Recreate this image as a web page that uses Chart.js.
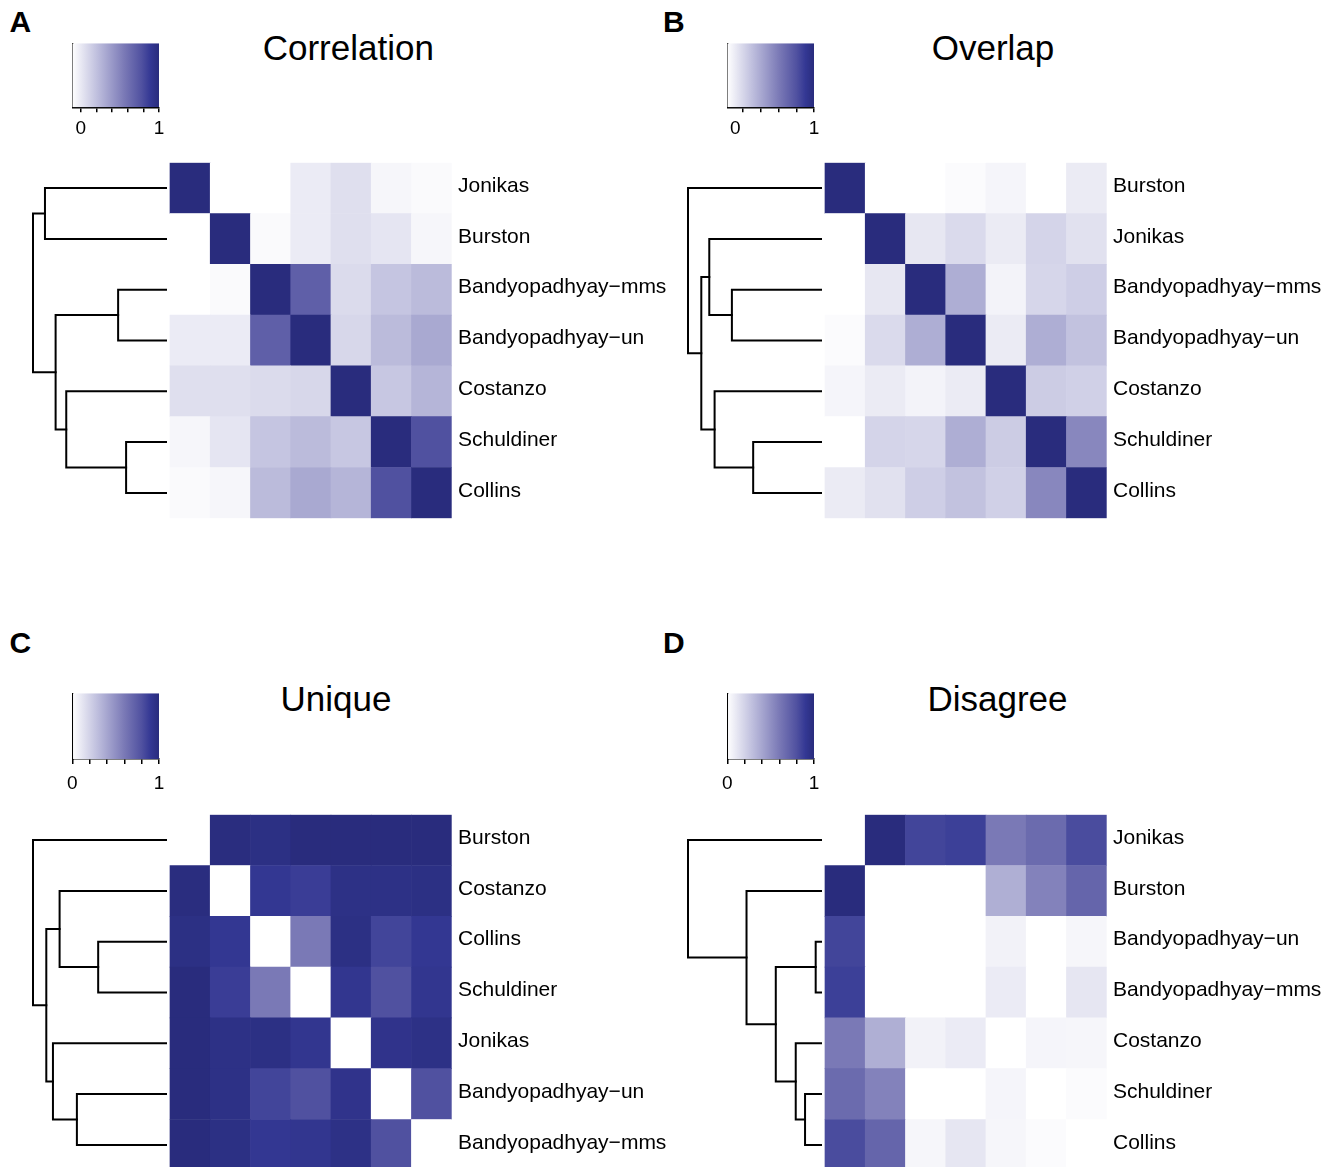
<!DOCTYPE html>
<html>
<head>
<meta charset="utf-8">
<script src="https://cdn.jsdelivr.net/npm/chart.js@4.4.1/dist/chart.umd.min.js"></script>
<style>
  html, body { margin: 0; padding: 0; background: #fff; }
  body { width: 1335px; height: 1167px; position: relative; overflow: hidden;
         font-family: "Liberation Sans", Arial, Helvetica, sans-serif; color: #000; }
  canvas { position: absolute; }
  .txt { position: absolute; white-space: nowrap; line-height: 1; }
  .letter { font-weight: bold; font-size: 30px; }
  .title { font-size: 35px; transform: translateX(-50%); }
</style>
</head>
<body>
<script>
// ---------------- data ----------------
const corrRows = ['Jonikas', 'Burston', 'Bandyopadhyay\u2212mms', 'Bandyopadhyay\u2212un', 'Costanzo', 'Schuldiner', 'Collins'];
const corrValues = [
  [ 1.00, -0.11, -0.11, -0.01,  0.05, -0.06, -0.08],
  [-0.11,  1.00, -0.08, -0.01,  0.05,  0.02, -0.06],
  [-0.11, -0.08,  1.00,  0.70,  0.07,  0.18,  0.23],
  [-0.01, -0.01,  0.70,  1.00,  0.09,  0.23,  0.32],
  [ 0.05,  0.05,  0.07,  0.09,  1.00,  0.17,  0.26],
  [-0.06,  0.02,  0.18,  0.23,  0.17,  1.00,  0.78],
  [-0.08, -0.06,  0.23,  0.32,  0.26,  0.78,  1.00]
];
// hclust-style merges: negative = leaf (1-based row), positive = earlier merge; last = height
const corrMerge = [[-6, -7, 0.30], [-3, -4, 0.36], [-5, 1, 0.75], [2, 3, 0.83], [-1, -2, 0.91], [5, 4, 1.00]];
const corrKeyRange = [-0.107, 1];
const corrKeyTicks = [0, 0.2, 0.4, 0.6, 0.8, 1];
const corrKeyTickLabels = ['0', '', '', '', '', '1'];
const corrKeyTickMarks = [1, 1, 1, 1, 1, 1];

const overlapRows = ['Burston', 'Jonikas', 'Bandyopadhyay\u2212mms', 'Bandyopadhyay\u2212un', 'Costanzo', 'Schuldiner', 'Collins'];
const overlapValues = [
  [ 1.00, -0.10, -0.10, -0.08, -0.05, -0.10,  0.00],
  [-0.10,  1.00,  0.02,  0.08,  0.00,  0.11,  0.05],
  [-0.10,  0.02,  1.00,  0.30, -0.04,  0.10,  0.14],
  [-0.08,  0.08,  0.30,  1.00,  0.00,  0.30,  0.20],
  [-0.05,  0.00, -0.04,  0.00,  1.00,  0.15,  0.13],
  [-0.10,  0.11,  0.10,  0.30,  0.15,  1.00,  0.49],
  [ 0.00,  0.05,  0.14,  0.20,  0.13,  0.49,  1.00]
];
const overlapMerge = [[-6, -7, 0.51], [-3, -4, 0.67], [-5, 1, 0.80], [-2, 2, 0.84], [4, 3, 0.90], [-1, 5, 1.00]];
const overlapKeyRange = [-0.10, 1];
const overlapKeyTicks = [0, 0.09, 0.32, 0.55, 0.78, 1];
const overlapKeyTickLabels = ['0', '', '', '', '', '1'];
const overlapKeyTickMarks = [0, 1, 1, 1, 1, 1];

const uniqueRows = ['Burston', 'Costanzo', 'Collins', 'Schuldiner', 'Jonikas', 'Bandyopadhyay\u2212un', 'Bandyopadhyay\u2212mms'];
const uniqueValues = [
  [0.00, 0.99, 0.97, 1.00, 1.00, 1.00, 1.00],
  [0.99, 0.00, 0.91, 0.88, 0.96, 0.96, 0.97],
  [0.97, 0.91, 0.00, 0.60, 0.97, 0.85, 0.91],
  [1.00, 0.88, 0.60, 0.00, 0.92, 0.80, 0.92],
  [1.00, 0.96, 0.97, 0.92, 0.00, 0.94, 0.96],
  [1.00, 0.96, 0.85, 0.80, 0.94, 0.00, 0.80],
  [1.00, 0.97, 0.91, 0.92, 0.96, 0.80, 0.00]
];
const uniqueMerge = [[-3, -4, 0.51], [-6, -7, 0.67], [-2, 1, 0.80], [-5, 2, 0.85], [3, 4, 0.90], [-1, 5, 1.00]];
const uniqueKeyRange = [0, 1];
const uniqueKeyTicks = [0, 0.2, 0.4, 0.6, 0.8, 1];
const uniqueKeyTickLabels = ['0', '', '', '', '', '1'];
const uniqueKeyTickMarks = [1, 1, 1, 1, 1, 1];

const disagreeRows = ['Jonikas', 'Burston', 'Bandyopadhyay\u2212un', 'Bandyopadhyay\u2212mms', 'Costanzo', 'Schuldiner', 'Collins'];
const disagreeValues = [
  [0.00, 1.00, 0.85, 0.87, 0.60, 0.67, 0.82],
  [1.00, 0.00, 0.00, 0.00, 0.36, 0.56, 0.70],
  [0.85, 0.00, 0.00, 0.00, 0.06, 0.00, 0.04],
  [0.87, 0.00, 0.00, 0.00, 0.09, 0.00, 0.11],
  [0.60, 0.36, 0.06, 0.09, 0.00, 0.045, 0.04],
  [0.67, 0.56, 0.00, 0.00, 0.045, 0.00, 0.02],
  [0.82, 0.70, 0.04, 0.11, 0.04, 0.02, 0.00]
];
const disagreeMerge = [[-3, -4, 0.04], [-6, -7, 0.12], [-5, 2, 0.19], [1, 3, 0.34], [-2, 4, 0.56], [-1, 5, 1.00]];
const disagreeKeyRange = [0, 1];
const disagreeKeyTicks = [0, 0.2, 0.4, 0.6, 0.8, 1];
const disagreeKeyTickLabels = ['0', '', '', '', '', '1'];
const disagreeKeyTickMarks = [1, 1, 1, 1, 1, 1];

// ---------------- styling ----------------
const FONT = '"Liberation Sans", Arial, Helvetica, sans-serif';
// white -> navy colour ramp
const RAMP = [
  [0.0, [255, 255, 255]],
  [0.3, [188, 188, 220]],
  [0.6, [122, 121, 182]],
  [0.8, [80, 81, 160]],
  [0.9, [52, 56, 148]],
  [1.0, [41, 44, 125]]
];
function rampColor(t) {
  t = Math.max(0, Math.min(1, t));
  for (let k = 1; k < RAMP.length; k++) {
    const [t1, c1] = RAMP[k];
    const [t0, c0] = RAMP[k - 1];
    if (t <= t1) {
      const f = (t - t0) / (t1 - t0);
      const c = c0.map((v, i) => Math.round(v + (c1[i] - v) * f));
      return `rgb(${c[0]},${c[1]},${c[2]})`;
    }
  }
  return 'rgb(41,44,125)';
}

// dendrogram: one U-shaped polyline per merge, x = merge height, y = row
function dendroLinks(merge) {
  const nodes = [];
  const ref = r => (r < 0 ? { y: -r - 1, h: 0 } : nodes[r - 1]);
  return merge.map(([a, b, h]) => {
    const A = ref(a), B = ref(b);
    nodes.push({ y: (A.y + B.y) / 2, h });
    const [p, q] = A.y < B.y ? [A, B] : [B, A];
    return [{ x: p.h, y: p.y }, { x: h, y: p.y }, { x: h, y: q.y }, { x: q.h, y: q.y }];
  });
}

// ---------------- layout ----------------
const HEAT_W = 680, HEAT_H = 400;
const PAD = { left: 33, top: 22.7, right: 8.3, bottom: 21.7 };
const LABEL_W = 220;
const XH_RANGE = [-3.404, 7];      // heatmap columns occupy 0..7
const XD_RANGE = [-2.148, 1];      // dendrogram heights, root = 1
const KEY_W = 130, KEY_H = 122, KEY_AXIS_H = 38;

const panels = [
  { letter: 'A', title: 'Correlation', rows: corrRows, values: corrValues, merge: corrMerge,
    keyRange: corrKeyRange, keyTicks: corrKeyTicks, keyLabels: corrKeyTickLabels, keyMarks: corrKeyTickMarks,
    ox: 0, heatTop: 162.7, keyTop: 43.3, keyBottom: 107.3, keyLabelPad: 5,
    titleX: 348.3, titleBase: 60, letterX: 9.5, letterBase: 32.5 },
  { letter: 'B', title: 'Overlap', rows: overlapRows, values: overlapValues, merge: overlapMerge,
    keyRange: overlapKeyRange, keyTicks: overlapKeyTicks, keyLabels: overlapKeyTickLabels, keyMarks: overlapKeyTickMarks,
    ox: 655, heatTop: 162.7, keyTop: 43.3, keyBottom: 107.3, keyLabelPad: 5,
    titleX: 993, titleBase: 60, letterX: 663, letterBase: 32.5 },
  { letter: 'C', title: 'Unique', rows: uniqueRows, values: uniqueValues, merge: uniqueMerge,
    keyRange: uniqueKeyRange, keyTicks: uniqueKeyTicks, keyLabels: uniqueKeyTickLabels, keyMarks: uniqueKeyTickMarks,
    ox: 0, heatTop: 815, keyTop: 693.3, keyBottom: 759, keyLabelPad: 8,
    titleX: 336, titleBase: 710.5, letterX: 9.5, letterBase: 653 },
  { letter: 'D', title: 'Disagree', rows: disagreeRows, values: disagreeValues, merge: disagreeMerge,
    keyRange: disagreeKeyRange, keyTicks: disagreeKeyTicks, keyLabels: disagreeKeyTickLabels, keyMarks: disagreeKeyTickMarks,
    ox: 655, heatTop: 815, keyTop: 693.3, keyBottom: 759, keyLabelPad: 8,
    titleX: 997.5, titleBase: 710.5, letterX: 663, letterBase: 653 }
];

function addText(cls, text, left, baseline, size) {
  const d = document.createElement('div');
  d.className = 'txt ' + cls;
  d.textContent = text;
  d.style.left = left + 'px';
  d.style.top = (baseline - 0.8465 * size) + 'px';
  document.body.appendChild(d);
}

function addCanvas(left, top, w, h) {
  const c = document.createElement('canvas');
  c.width = w; c.height = h;
  c.style.left = left + 'px'; c.style.top = top + 'px';
  c.style.width = w + 'px'; c.style.height = h + 'px';
  document.body.appendChild(c);
  return c;
}

Chart.defaults.font.family = FONT;
Chart.defaults.color = '#000';

panels.forEach(p => {
  addText('letter', p.letter, p.letterX, p.letterBase, 30);
  addText('title', p.title, p.titleX, p.titleBase, 35);

  const [kMin, kMax] = p.keyRange;
  const toT = v => (v - kMin) / (kMax - kMin);
  const n = p.rows.length;

  // ---- heatmap + dendrogram ----
  const cells = [], colors = [];
  for (let i = 0; i < n; i++) {
    for (let j = 0; j < n; j++) {
      cells.push({ x: [j, j + 1], y: i });
      colors.push(rampColor(toT(p.values[i][j])));
    }
  }
  const links = dendroLinks(p.merge).map(pts => ({
    type: 'line', data: pts, xAxisID: 'xd', yAxisID: 'y',
    borderColor: '#000', borderWidth: 2, pointRadius: 0, fill: false, tension: 0,
    borderCapStyle: 'square', borderJoinStyle: 'miter', clip: false
  }));

  const heatCanvas = addCanvas(p.ox, p.heatTop - PAD.top, HEAT_W, HEAT_H);
  new Chart(heatCanvas, {
    type: 'bar',
    data: {
      datasets: [{
        type: 'bar', data: cells, backgroundColor: colors, xAxisID: 'xh', yAxisID: 'y',
        barPercentage: 1, categoryPercentage: 1, borderWidth: 0
      }, ...links]
    },
    options: {
      indexAxis: 'y', responsive: false, animation: false, events: [],
      layout: { padding: PAD },
      plugins: { legend: { display: false }, tooltip: { enabled: false } },
      scales: {
        xh: { type: 'linear', axis: 'x', min: XH_RANGE[0], max: XH_RANGE[1], bounds: 'data', display: false },
        xd: { type: 'linear', axis: 'x', min: XD_RANGE[0], max: XD_RANGE[1], bounds: 'data', reverse: true, display: false },
        y: {
          type: 'linear', position: 'right', min: -0.5, max: n - 0.5, reverse: true, bounds: 'data', offset: false,
          grid: { display: false, drawTicks: false }, border: { display: false },
          ticks: {
            autoSkip: false, padding: 6.3, labelOffset: -2, color: '#000',
            font: { size: 21, family: FONT },
            callback: (v, idx) => p.rows[idx]
          },
          afterBuildTicks: s => { s.ticks = p.rows.map((_, i) => ({ value: i })); },
          afterFit: s => { s.width = LABEL_W; }
        }
      }
    }
  });

  // ---- colour key ----
  const keyH = p.keyBottom - p.keyTop;
  const keyPad = { left: 22.3, right: 21, top: 13.3, bottom: KEY_H - 13.3 - keyH - KEY_AXIS_H };
  const keyCanvas = addCanvas(p.ox + 50, p.keyTop - keyPad.top, KEY_W, KEY_H);
  new Chart(keyCanvas, {
    type: 'bar',
    data: {
      labels: [''],
      datasets: [{
        data: [[kMin, kMax]], barPercentage: 1, categoryPercentage: 1, borderWidth: 0, inflateAmount: 0,
        backgroundColor: c => {
          const a = c.chart.chartArea;
          if (!a) return null;
          const g = c.chart.ctx.createLinearGradient(a.left, 0, a.right, 0);
          RAMP.forEach(([t]) => g.addColorStop(t, rampColor(t)));
          return g;
        }
      }]
    },
    options: {
      indexAxis: 'y', responsive: false, animation: false, events: [],
      layout: { padding: keyPad },
      plugins: { legend: { display: false }, tooltip: { enabled: false } },
      scales: {
        x: {
          type: 'linear', position: 'bottom', min: kMin, max: kMax, bounds: 'data',
          border: { display: true, color: '#000', width: 1.5 },
          grid: {
            display: true, drawOnChartArea: false, drawTicks: true, tickLength: 5,
            color: '#000', lineWidth: 1.5,
            tickColor: c => (c.tick && p.keyMarks[c.index] === 0 ? 'rgba(0,0,0,0)' : '#000')
          },
          ticks: {
            autoSkip: false, maxRotation: 0, padding: p.keyLabelPad, color: '#000',
            font: { size: 19, family: FONT },
            callback: (v, idx) => p.keyLabels[idx]
          },
          afterBuildTicks: s => { s.ticks = p.keyTicks.map(v => ({ value: v })); },
          afterFit: s => { s.height = KEY_AXIS_H; }
        },
        y: {
          type: 'category', offset: true,
          grid: { display: false, drawTicks: false },
          border: { display: true, color: '#000', width: 1.5 },
          ticks: { display: false },
          afterFit: s => { s.width = 0; }
        }
      }
    }
  });
});
</script>
</body>
</html>
